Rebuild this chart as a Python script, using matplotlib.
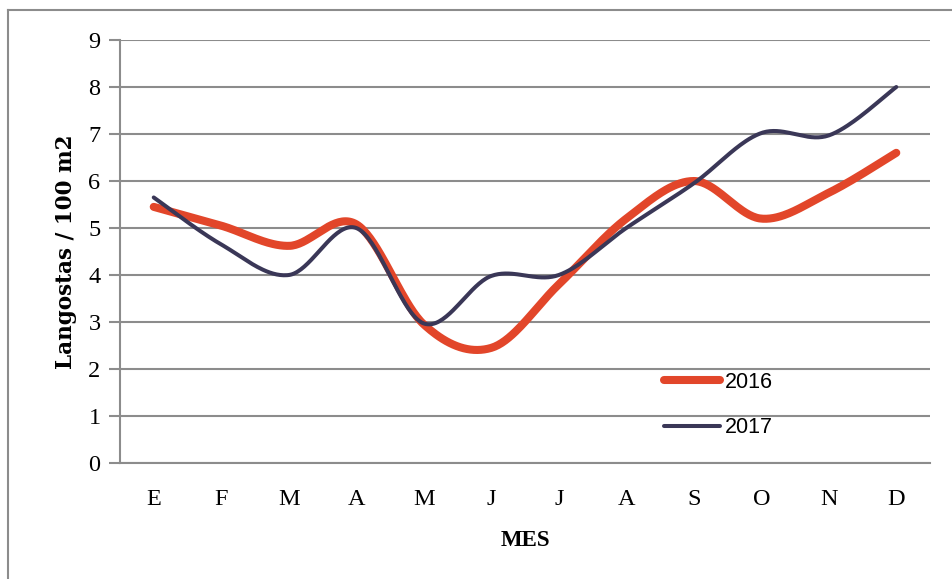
import matplotlib
matplotlib.use("Agg")
import matplotlib.pyplot as plt
from matplotlib.lines import Line2D
import numpy as np

# datos
meses = ["E", "F", "M", "A", "M", "J", "J", "A", "S", "O", "N", "D"]
d2016 = [5.45, 5.05, 4.62, 5.08, 2.95, 2.45, 3.8, 5.2, 6.0, 5.2, 5.75, 6.6]
d2017 = [5.65, 4.65, 4.0, 5.0, 2.97, 3.98, 4.0, 5.0, 5.95, 7.02, 6.97, 8.0]

C2016 = "#E2462A"
C2017 = "#3A3757"
GRID = "#8C8C8C"


def suavizar(ys, n=40):
    """Curva tipo 'linea suavizada' de Excel (Bezier con tangentes Catmull-Rom)."""
    xs = np.arange(len(ys), dtype=float)
    ys = np.asarray(ys, dtype=float)
    pts = np.column_stack([xs, ys])
    ext = np.vstack([pts[0], pts, pts[-1]])
    out = []
    t = np.linspace(0, 1, n)[:, None]
    for i in range(len(pts) - 1):
        p0, p3 = ext[i + 1], ext[i + 2]
        p1 = p0 + (ext[i + 2] - ext[i]) / 6.0
        p2 = p3 - (ext[i + 3] - ext[i + 1]) / 6.0
        seg = ((1 - t) ** 3) * p0 + 3 * ((1 - t) ** 2) * t * p1 \
            + 3 * (1 - t) * t ** 2 * p2 + t ** 3 * p3
        out.append(seg if i == 0 else seg[1:])
    seg = np.vstack(out)
    return seg[:, 0], seg[:, 1]


fig = plt.figure(figsize=(9.53, 5.79), dpi=100)
ax = fig.add_axes([0.1259, 0.2003, 0.85, 0.7306])

x16, y16 = suavizar(d2016)
x17, y17 = suavizar(d2017)
ax.plot(x16, y16, color=C2016, lw=5.8, solid_capstyle="round", label="2016",
        zorder=3)
ax.plot(x17, y17, color=C2017, lw=2.9, solid_capstyle="round", label="2017",
        zorder=4)

ax.set_xlim(-0.5, len(meses) - 0.5)
ax.set_ylim(0, 9)
ax.set_yticks(range(0, 10))
ax.set_xticks(range(len(meses)))
ax.set_xticklabels(meses)
ax.yaxis.grid(True, color=GRID, lw=1.5)
ax.set_axisbelow(True)

serif = ["Liberation Serif", "DejaVu Serif"]
for lab in ax.get_xticklabels() + ax.get_yticklabels():
    lab.set_family(serif)
    lab.set_fontsize(17.5)
ax.tick_params(axis="x", length=0, pad=19)
ax.tick_params(axis="y", length=8, width=1.5, color=GRID, pad=6)

for s in ["top", "right"]:
    ax.spines[s].set_visible(False)
for s in ["left", "bottom"]:
    ax.spines[s].set_color(GRID)
    ax.spines[s].set_linewidth(1.5)

ax.set_xlabel("MES", family=serif, fontsize=16.5, fontweight="bold", labelpad=14)
ax.set_ylabel("Langostas / 100 m2", family="DejaVu Serif", fontsize=15.5,
              fontweight="bold", labelpad=8)

ax.legend(loc="upper left", bbox_to_anchor=(0.648, 0.262), frameon=False,
          prop={"family": ["Liberation Sans", "DejaVu Sans"], "size": 15.5},
          handlelength=2.6, handletextpad=0.2, labelspacing=1.15)

# marco exterior del grafico
fig.add_artist(Line2D([8 / 953, 8 / 953], [0, 1 - 10 / 579],
                      transform=fig.transFigure, color=GRID, lw=1.5))
fig.add_artist(Line2D([8 / 953, 1], [1 - 10 / 579, 1 - 10 / 579],
                      transform=fig.transFigure, color=GRID, lw=1.5))

fig.savefig("out.png", dpi=100)
